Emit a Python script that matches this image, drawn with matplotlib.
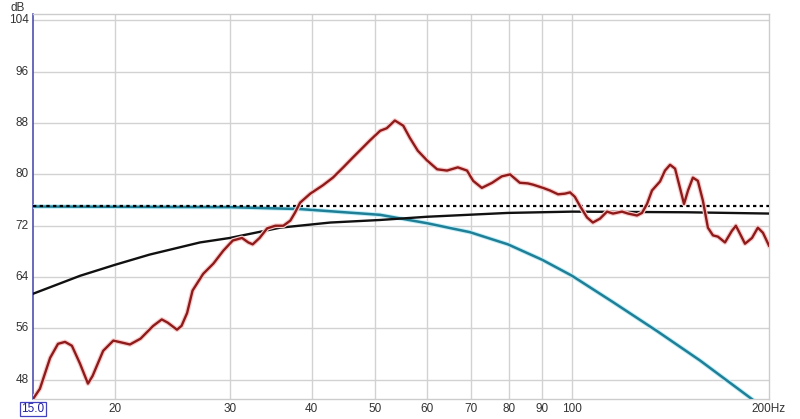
import numpy as np
import matplotlib
matplotlib.use('Agg')
import matplotlib.pyplot as plt
import matplotlib.patheffects as pe

# measured response (red)
meas_f = [15.0, 15.37, 15.93, 16.38, 16.79, 17.2, 17.7, 18.2, 18.5, 19.2, 19.9, 20.5, 21.1,
          21.9, 22.9, 23.6, 24.1, 24.9, 25.3, 25.8, 26.3, 27.3, 28.3, 29.3, 30.3, 31.3,
          32.0, 32.5, 33.3, 34.2, 35.2, 36.2, 37.1, 37.7, 38.4, 39.8, 41.6, 43.1, 44.7,
          46.2, 47.9, 49.1, 50.9, 52.1, 53.6, 55.2, 56.5, 58.1, 60.0, 62.2, 64.4, 66.9,
          69.1, 70.6, 72.8, 75.5, 78.1, 80.4, 83.2, 85.6, 87.2, 90.3, 92.5, 95.2, 97.5,
          99.3, 101.0, 102.8, 105.4, 107.6, 110.3, 113.1, 115.5, 119.2, 121.8, 125.7,
          127.9, 130.2, 132.5, 136.3, 138.7, 141.2, 143.7, 146.2, 148.3, 150.4, 153.0,
          155.7, 158.5, 161.3, 164.2, 167.1, 171.3, 175.5, 178.0, 180.5, 183.8, 188.4,
          192.3, 195.8, 200.0]
meas_db = [45.0, 46.6, 51.4, 53.6, 53.9, 53.3, 50.5, 47.4, 48.6, 52.5, 54.1, 53.8, 53.5,
           54.4, 56.4, 57.4, 56.9, 55.8, 56.4, 58.4, 61.9, 64.5, 66.1, 68.1, 69.7, 70.1,
           69.4, 69.1, 70.1, 71.6, 72.0, 72.0, 72.8, 74.0, 75.6, 77.0, 78.3, 79.5, 81.1,
           82.6, 84.2, 85.3, 86.8, 87.2, 88.4, 87.6, 85.7, 83.7, 82.2, 80.8, 80.6, 81.1,
           80.6, 79.0, 77.9, 78.7, 79.7, 80.0, 78.7, 78.6, 78.4, 77.9, 77.5, 76.9, 77.0,
           77.2, 76.5, 75.1, 73.3, 72.5, 73.1, 74.2, 73.9, 74.2, 73.9, 73.6,
           74.0, 75.4, 77.5, 78.9, 80.6, 81.5, 80.9, 77.9, 75.4, 77.5, 79.5,
           79.0, 75.9, 71.7, 70.5, 70.3, 69.4, 71.2, 72.0, 70.8, 69.2, 70.1,
           71.7, 70.9, 68.9]

# target curve (black)
target_f = [15.0, 17.7, 20.0, 22.6, 27.0, 30.0, 35.8, 42.7, 50.9, 60.0, 79.8, 100.0, 150.0, 200.0]
target_db = [61.4, 64.2, 65.9, 67.5, 69.4, 70.1, 71.7, 72.5, 72.9, 73.4, 74.0, 74.2, 74.1, 73.9]

# filter / sub curve (teal)
sub_f = [15.0, 30.0, 38.4, 50.9, 60.0, 69.8, 79.8, 90.0, 100.0, 115.5, 134.8, 156.9, 187.1, 200.0]
sub_db = [75.0, 74.9, 74.6, 73.7, 72.4, 71.0, 69.1, 66.7, 64.2, 60.1, 55.6, 51.0, 45.2, 43.0]

ref_level = 75.0

y_ticks = [48, 56, 64, 72, 80, 88, 96, 104]
x_ticks = [20, 30, 40, 50, 60, 70, 80, 90, 100]

plt.rcParams['font.family'] = ['Liberation Sans', 'DejaVu Sans']

fig = plt.figure(figsize=(8, 4.19), dpi=100)
ax = fig.add_axes([33 / 800, 20 / 419, 736 / 800, 385 / 419])

ax.set_xscale('log')
ax.set_xlim(15, 200)
ax.set_ylim(45, 105)

for t in x_ticks:
    ax.axvline(t, color='#d2d2d2', lw=1, zorder=0)
for t in y_ticks:
    ax.axhline(t, color='#d2d2d2', lw=1, zorder=0)

halo_red = [pe.Stroke(linewidth=3.4, foreground='#f9cccc'), pe.Normal()]
halo_blue = [pe.Stroke(linewidth=3.2, foreground='#c0eef8'), pe.Normal()]

ax.plot(sub_f, sub_db, color='#1f7f96', lw=1.8, path_effects=halo_blue, zorder=3,
        solid_joinstyle='round')
ax.axhline(ref_level, color='black', lw=1.6, ls=(0, (1.5, 1.5)), zorder=4)
ax.plot(target_f, target_db, color='#111111', lw=1.7, zorder=4, solid_joinstyle='round')
ax.plot(meas_f, meas_db, color='#8e1a1a', lw=1.7, path_effects=halo_red, zorder=5,
        solid_joinstyle='round')

ax.set_xticks([])
ax.set_yticks([])
ax.xaxis.set_minor_locator(matplotlib.ticker.NullLocator())

for s in ['top', 'right', 'bottom']:
    ax.spines[s].set_color('#cccccc')
    ax.spines[s].set_linewidth(1)
ax.spines['left'].set_color('#5050b0')
ax.spines['left'].set_linewidth(1.2)

txt = dict(fontsize=8.5, color='#333333')
for t in y_ticks:
    ax.text(-0.006, t, str(t), transform=ax.get_yaxis_transform(), ha='right', va='center', **txt)
for t in x_ticks:
    ax.text(t, -0.026, str(t), transform=ax.get_xaxis_transform(), ha='center', va='center', **txt)
ax.text(200, -0.026, '200Hz', transform=ax.get_xaxis_transform(), ha='center', va='center', **txt)
ax.text(15, -0.026, '15.0', transform=ax.get_xaxis_transform(), ha='center', va='center',
        fontsize=8.5, color='#2020a0',
        bbox=dict(boxstyle='square,pad=0.1', fc='white', ec='#4040c0', lw=0.9))
fig.text(18 / 800, 1 - 8 / 419, 'dB', ha='center', va='center', **txt)

fig.savefig('out.png', dpi=100, facecolor='white')
